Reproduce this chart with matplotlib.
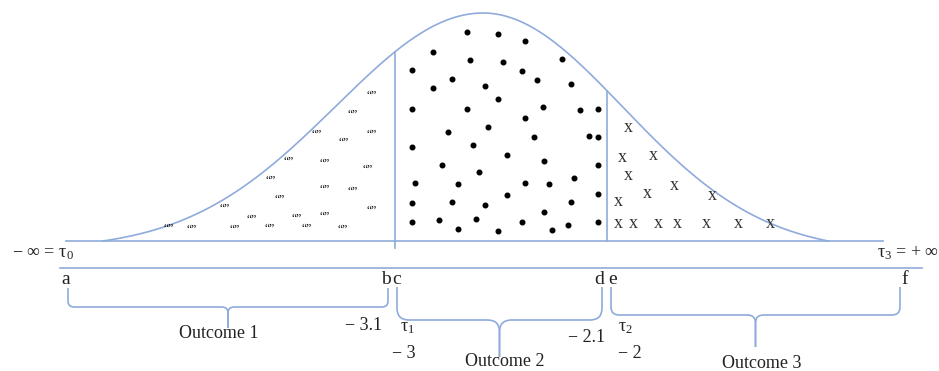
import numpy as np
import matplotlib
matplotlib.use("Agg")
import matplotlib.pyplot as plt
from matplotlib.path import Path
from matplotlib.patches import PathPatch

plt.rcParams['font.family'] = ['Liberation Serif', 'DejaVu Serif']
plt.rcParams['mathtext.fontset'] = 'custom'
plt.rcParams['mathtext.rm'] = 'Liberation Serif'
plt.rcParams['mathtext.it'] = 'Liberation Serif:italic'

BLUE = '#8fabdc'
INK = '#222222'

# bell curve (pixel units of the picture)
peak_x, peak_y, base_y = 483, 13, 241
sigma_left, sigma_right = 147, 140
curve_start, curve_end = 103, 828

# cut points
cut_x = [395, 607]
cut_bottom = [248, 241]

# region 1 markers: empty quotes
quote_x = [372, 353, 317, 372, 344, 289, 325, 368, 271, 280, 325, 353, 225, 252,
           297, 325, 372, 169, 192, 235, 270, 307, 343]
quote_y = [93, 112, 132, 132, 140, 159, 161, 167, 178, 197, 187, 189, 206, 217,
           216, 214, 208, 226, 227, 227, 226, 226, 227]

# region 2 markers: dots
dot_x = [467, 498, 525, 433, 470, 503, 562, 412, 522, 452, 537, 433, 485, 571,
         498, 412, 467, 543, 580, 598, 525, 488, 448, 589, 598, 534, 412, 473,
         507, 442, 544, 598, 479, 415, 458, 525, 549, 574, 507, 412, 452, 485,
         571, 598, 544, 412, 439, 476, 522, 568, 598, 458, 498, 552]
dot_y = [32, 34, 41, 52, 60, 62, 59, 70, 71, 79, 80, 88, 86, 84,
         99, 109, 109, 107, 110, 109, 118, 127, 132, 136, 137, 137, 147, 145,
         155, 165, 161, 165, 172, 183, 184, 183, 184, 178, 195, 203, 202, 205,
         202, 194, 212, 222, 220, 219, 222, 225, 222, 229, 231, 230]

# region 3 markers: x
cross_x = [628, 622, 653, 628, 674, 647, 712, 618, 618, 633, 658, 677, 706, 738, 770]
cross_y = [128, 157, 156, 176, 186, 194, 195, 202, 223, 223, 223, 223, 223, 223, 223]

# braces
brace_left = [68, 397, 611]
brace_right = [388, 602, 900]
brace_top = [288, 287, 287]
brace_mid = [307, 320, 315]
brace_tip = [328, 357, 347]
brace_round = [6, 12, 8]
outcome_labels = ['Outcome 1', 'Outcome 2', 'Outcome 3']
outcome_x = [219, 505, 762]
outcome_y = [333, 362, 363]

letters = ['a', 'b', 'c', 'd', 'e', 'f']
letter_x = [66, 386, 397, 599, 613, 905]

fig = plt.figure(figsize=(9.39, 3.71), dpi=100)
ax = fig.add_axes([0, 0, 1, 1])
ax.set_xlim(0, 939)
ax.set_ylim(371, 0)
ax.axis('off')

# bell curve
xs = np.linspace(curve_start, curve_end, 400)
sig = np.where(xs < peak_x, sigma_left, sigma_right)
g = np.exp(-(xs - peak_x) ** 2 / (2 * sig ** 2))
g0 = np.where(xs < peak_x,
              np.exp(-(curve_start - peak_x) ** 2 / (2 * sigma_left ** 2)),
              np.exp(-(curve_end - peak_x) ** 2 / (2 * sigma_right ** 2)))
ys = base_y - (base_y - peak_y) * (g - g0) / (1 - g0)
ax.plot(xs, ys, color=BLUE, lw=1.2)

# horizontal lines
ax.plot([66, 883], [241, 241], color=BLUE, lw=1.2)
ax.plot([60, 922], [268, 268], color=BLUE, lw=1.2)

# cut lines
for cx, cb in zip(cut_x, cut_bottom):
    sg = sigma_left if cx < peak_x else sigma_right
    ce = curve_start if cx < peak_x else curve_end
    gg = np.exp(-(cx - peak_x) ** 2 / (2 * sg ** 2))
    ge = np.exp(-(ce - peak_x) ** 2 / (2 * sg ** 2))
    top = base_y - (base_y - peak_y) * (gg - ge) / (1 - ge)
    ax.plot([cx, cx], [top, cb], color=BLUE, lw=1.2)

# markers
for qx, qy in zip(quote_x, quote_y):
    ax.text(qx, qy + 3, '\u201c\u201d', fontsize=8.5, ha='center', va='center',
            color='#111111')
ax.plot(dot_x, dot_y, 'o', color='black', ms=3.3, ls='none')
for xx, xy in zip(cross_x, cross_y):
    ax.text(xx, xy, 'x', fontsize=13, ha='center', va='center', color='#333333')

# braces
def brace(x0, x1, ytop, ymid, ytip, r):
    xm = (x0 + x1) / 2
    M, L, C = Path.MOVETO, Path.LINETO, Path.CURVE3
    for xe, s in ((x0, 1), (x1, -1)):
        verts = [(xe, ytop), (xe, ymid - r), (xe, ymid), (xe + s * r, ymid),
                 (xm - s * r, ymid), (xm, ymid), (xm, ymid + r), (xm, ytip)]
        codes = [M, L, C, C, L, C, C, L]
        ax.add_patch(PathPatch(Path(verts, codes), fill=False, ec=BLUE, lw=1.2))

for i in range(3):
    brace(brace_left[i], brace_right[i], brace_top[i], brace_mid[i],
          brace_tip[i], brace_round[i])
    ax.text(outcome_x[i], outcome_y[i], outcome_labels[i], fontsize=13,
            ha='center', va='center', color=INK)

for lx, lt in zip(letter_x, letters):
    ax.text(lx, 279, lt, fontsize=14, ha='center', va='center', color=INK)

ax.text(12, 253, '\u2212 \u221e = $\\mathrm{\u03c4}_0$', fontsize=13, ha='left',
        va='center', color=INK)
ax.text(877, 253, '$\\mathrm{\u03c4}_3$ = + \u221e', fontsize=13, ha='left',
        va='center', color=INK)

ax.text(382, 326, '\u2212 3.1', fontsize=13, ha='right', va='center', color=INK)
ax.text(400, 328, '$\\mathrm{\u03c4}_1$', fontsize=13, ha='left', va='center', color=INK)
ax.text(392, 354, '\u2212 3', fontsize=13, ha='left', va='center', color=INK)
ax.text(605, 337, '\u2212 2.1', fontsize=13, ha='right', va='center', color=INK)
ax.text(618, 328, '$\\mathrm{\u03c4}_2$', fontsize=13, ha='left', va='center', color=INK)
ax.text(618, 354, '\u2212 2', fontsize=13, ha='left', va='center', color=INK)

fig.savefig('out.png', dpi=100)
